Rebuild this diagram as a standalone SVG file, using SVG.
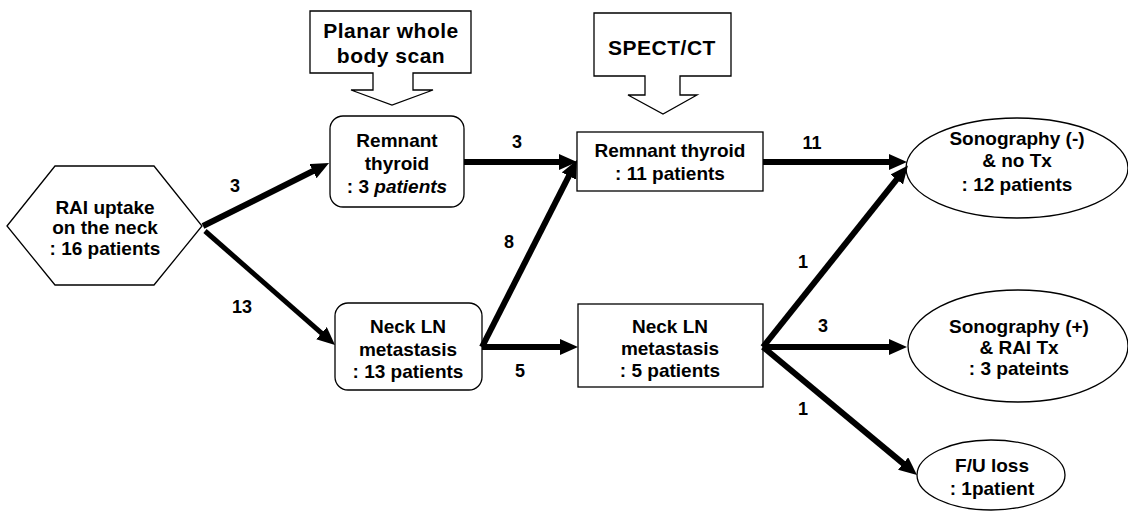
<svg xmlns="http://www.w3.org/2000/svg" width="1128" height="512" viewBox="0 0 1128 512">
  <style>
    .shape { fill: #ffffff; stroke: #000000; stroke-width: 1.3; }
    .t { font-family: "Liberation Sans", Arial, sans-serif; font-weight: bold; font-size: 19px; fill: #000; text-anchor: middle; }
    .big { font-size: 21px; letter-spacing: 0.5px; }
    .lbl { font-family: "Liberation Sans", Arial, sans-serif; font-weight: bold; font-size: 18px; fill: #000; text-anchor: middle; }
    .conn { stroke: #000; stroke-width: 6; fill: none; marker-end: url(#ah); }
  </style>
  <defs>
    <marker id="ah" markerUnits="userSpaceOnUse" markerWidth="20" markerHeight="18" refX="8" refY="8" orient="auto">
      <path d="M0,0 L18,8 L0,16 z" fill="#000"/>
    </marker>
  </defs>
  <rect width="1128" height="512" fill="#fff"/>

  <g id="planar">
    <path class="shape" d="M310,11 H471 V73 H413 V90 H433 L392,105 L351,90 H373 V73 H310 Z"/>
    <text class="t big" x="391" y="38">Planar whole</text>
    <text class="t big" x="391" y="63">body scan</text>
  </g>

  <g id="spect">
    <path class="shape" d="M594,13 H731 V76 H680 V95 H697 L663,114 L628,95 H645 V76 H594 Z"/>
    <text class="t big" x="662" y="55">SPECT/CT</text>
  </g>

  <g id="rai">
    <polygon class="shape" points="7,226 55,166 154,166 202,226 154,285 55,285"/>
    <text class="t" x="105" y="214">RAI uptake</text>
    <text class="t" x="105" y="234">on the neck</text>
    <text class="t" x="105" y="255">: 16 patients</text>
  </g>

  <g id="remnant3">
    <rect class="shape" x="330" y="116" width="134" height="91" rx="13"/>
    <text class="t" x="397" y="147">Remnant</text>
    <text class="t" x="397" y="170">thyroid</text>
    <text class="t" x="397" y="193">: 3 <tspan font-style="italic">patients</tspan></text>
  </g>

  <g id="neck13">
    <rect class="shape" x="335" y="303" width="147" height="87" rx="13"/>
    <text class="t" x="408" y="333">Neck LN</text>
    <text class="t" x="408" y="356">metastasis</text>
    <text class="t" x="408" y="378">: 13 patients</text>
  </g>

  <g id="remnant11">
    <rect class="shape" x="577" y="132" width="186" height="59"/>
    <text class="t" x="670" y="157">Remnant thyroid</text>
    <text class="t" x="670" y="180">: 11 patients</text>
  </g>

  <g id="neck5">
    <rect class="shape" x="578" y="304" width="185" height="83"/>
    <text class="t" x="670" y="333">Neck LN</text>
    <text class="t" x="670" y="355">metastasis</text>
    <text class="t" x="670" y="377">: 5 patients</text>
  </g>

  <g id="sono-neg">
    <ellipse class="shape" cx="1017" cy="168" rx="111" ry="50"/>
    <text class="t" x="1017" y="145">Sonography (-)</text>
    <text class="t" x="1017" y="167">&amp; no Tx</text>
    <text class="t" x="1017" y="191">: 12 patients</text>
  </g>

  <g id="sono-pos">
    <ellipse class="shape" cx="1018" cy="346" rx="110" ry="56"/>
    <text class="t" x="1019" y="333">Sonography (+)</text>
    <text class="t" x="1019" y="354">&amp; RAI Tx</text>
    <text class="t" x="1019" y="375">: 3 pateints</text>
  </g>

  <g id="fu-loss">
    <ellipse class="shape" cx="991" cy="475" rx="74" ry="35"/>
    <text class="t" x="992" y="472">F/U loss</text>
    <text class="t" x="992" y="495">: 1patient</text>
  </g>

  <g id="connectors">
    <line class="conn" x1="203" y1="226" x2="320.1" y2="167.5"/>
    <line class="conn" x1="205" y1="231" x2="327.5" y2="338.4" style="stroke-width:5"/>
    <line class="conn" x1="464" y1="162" x2="567" y2="162"/>
    <line class="conn" x1="482" y1="347" x2="572.5" y2="168.9"/>
    <line class="conn" x1="482" y1="347" x2="568" y2="347"/>
    <line class="conn" x1="763" y1="162" x2="897" y2="162"/>
    <line class="conn" x1="763" y1="347" x2="901.7" y2="173.2"/>
    <line class="conn" x1="763" y1="347" x2="897" y2="347"/>
    <line class="conn" x1="763" y1="347" x2="909.3" y2="468.6"/>
    <text class="lbl" x="235" y="192">3</text>
    <text class="lbl" x="242" y="313">13</text>
    <text class="lbl" x="517" y="148">3</text>
    <text class="lbl" x="509" y="248">8</text>
    <text class="lbl" x="520" y="377">5</text>
    <text class="lbl" x="812" y="149">11</text>
    <text class="lbl" x="803" y="268">1</text>
    <text class="lbl" x="823" y="332">3</text>
    <text class="lbl" x="803" y="415">1</text>
  </g>
</svg>
